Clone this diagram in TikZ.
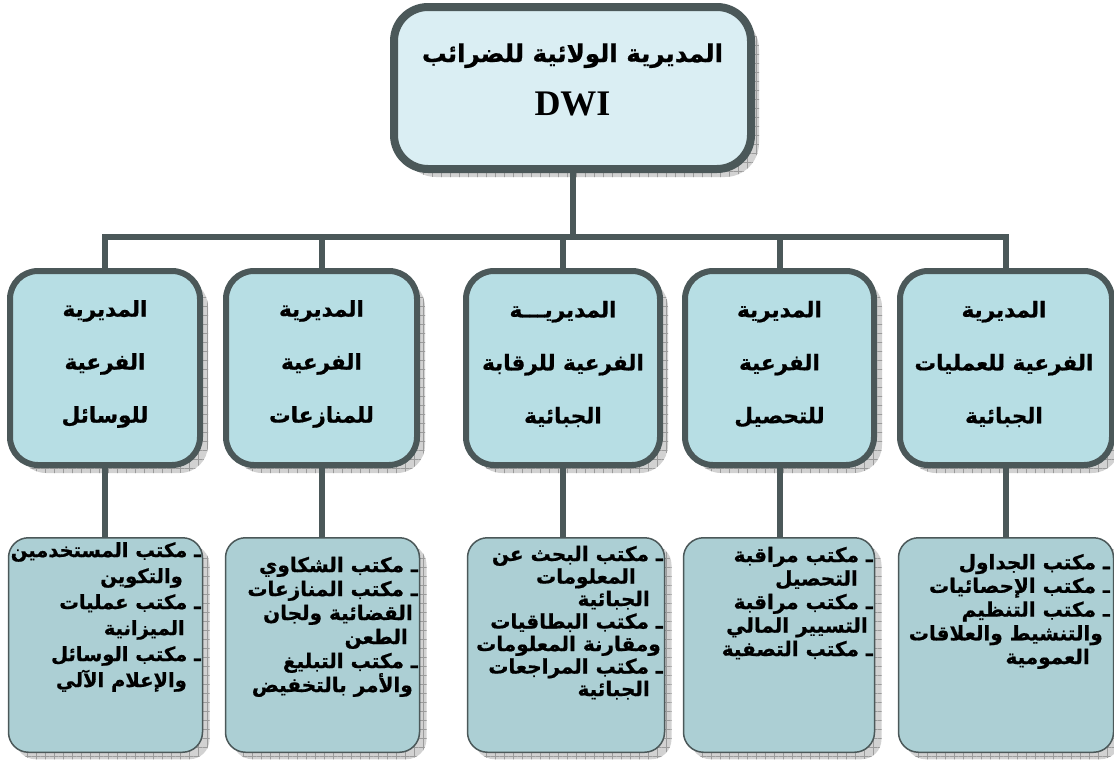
\documentclass[tikz,border=0pt]{standalone}
\usepackage{fontspec}
\setmainfont{Liberation Serif}
\newfontfamily\arabicfont[Script=Arabic, BoldFeatures={FakeBold=0.8}]{DejaVu Sans}
\TeXXeTstate=1
\usetikzlibrary{patterns.meta}
\definecolor{bord}{RGB}{75,88,89}
\definecolor{topfill}{RGB}{218,238,243}
\definecolor{midfill}{RGB}{183,222,228}
\definecolor{botfill}{RGB}{172,207,212}
\definecolor{shfill}{RGB}{210,210,210}
\definecolor{shline}{RGB}{155,155,155}
\newcommand{\arline}[1]{\beginR #1\endR}
\tikzset{
  shadowed/.style={
    preaction={fill=shfill, transform canvas={shift={(#1,-#1)}}},
    preaction={pattern={Hatch[angle=0,distance=9pt,line width=0.5pt]}, pattern color=shline, transform canvas={shift={(#1,-#1)}}}},
  topbox/.style={shadowed=8pt, draw=bord, line width=8pt, fill=topfill, rounded corners=34pt, minimum width=357pt, minimum height=162pt, inner sep=0pt, outer sep=0pt},
  midbox/.style={shadowed=8pt, draw=bord, line width=6pt, fill=midfill, rounded corners=28pt, minimum height=194pt, inner sep=0pt, outer sep=0pt},
  botbox/.style={shadowed=7pt, draw=bord, line width=1.5pt, fill=botfill, rounded corners=20pt, minimum height=214.5pt, inner sep=0pt, outer sep=0pt},
  midtxt/.style={font=\arabicfont\bfseries\fontsize{21.5}{53}\selectfont, align=center, inner sep=0pt},
  bottxt/.style={font=\arabicfont\bfseries\fontsize{20}{24}\selectfont, align=right, inner sep=0pt, anchor=base east},
  conn/.style={draw=bord, line width=6pt}
}
\begin{document}
\begin{tikzpicture}[x=1pt,y=-1pt]
\useasboundingbox (0,0) rectangle (1114,774);
% top box
\node[topbox] (top) at (572.5,88) {};
\node[font=\arabicfont\bfseries\fontsize{24.5}{30}\selectfont, anchor=base, inner sep=0pt] (toptxt) at (572.5,62) {\arline{المديرية  الولائية  للضرائب}};
\node[font=\bfseries\fontsize{36}{40}\selectfont, anchor=base, inner sep=0pt] (dwi) at (572.5,115) {DWI};
% middle boxes
\node[midbox, minimum width=190pt] (m1) at (105,368) {};
\node[midbox, minimum width=191pt] (m2) at (321.5,368) {};
\node[midbox, minimum width=194pt] (m3) at (563,368) {};
\node[midbox, minimum width=189pt] (m4) at (779.5,368) {};
\node[midbox, minimum width=212pt] (m5) at (1006,368) {};
\node[midtxt] (m1t) at (105,364) {\arline{المديرية}\\\arline{الفرعية}\\\arline{للوسائل}};
\node[midtxt] (m2t) at (321.5,364) {\arline{المديرية}\\\arline{الفرعية}\\\arline{للمنازعات}};
\node[midtxt] (m3t) at (563,364) {\arline{المديريـــة}\\\arline{الفرعية للرقابة}\\\arline{الجبائية}};
\node[midtxt] (m4t) at (779.5,364) {\arline{المديرية}\\\arline{الفرعية}\\\arline{للتحصيل}};
\node[midtxt] (m5t) at (1004,364) {\arline{المديرية}\\\arline{الفرعية للعمليات}\\\arline{الجبائية}};
% bottom boxes
\node[botbox, minimum width=194pt] (b1) at (105.5,645) {};
\node[botbox, minimum width=194pt] (b2) at (322.5,645) {};
\node[botbox, minimum width=197pt] (b3) at (566,645) {};
\node[botbox, minimum width=191pt] (b4) at (779,645) {};
\node[botbox, minimum width=215pt] (b5) at (1006,645) {};
\node[bottxt, font=\arabicfont\bfseries\fontsize{19.5}{26}\selectfont] (b1t) at (201,687) {\arline{ـ مكتب المستخدمين}\\\arline{والتكوين}\kern18pt\\\arline{ـ مكتب عمليات}\\\arline{الميزانية}\kern16pt\\\arline{ـ مكتب الوسائل}\\\arline{والإعلام الآلي}\kern14pt};
\node[bottxt] (b2t) at (418,692) {\arline{ـ مكتب الشكاوي}\\\arline{ـ مكتب المنازعات}\\\arline{القضائية ولجان}\kern5pt\\\arline{الطعن}\kern10pt\\\arline{ـ مكتب التبليغ}\\\arline{والأمر  بالتخفيض}\kern5pt};
\node[bottxt, font=\arabicfont\bfseries\fontsize{20}{22.5}\selectfont] (b3t) at (663,696) {\arline{ـ مكتب البحث عن}\\\arline{المعلومات}\kern27pt\\\arline{الجبائية}\kern13pt\\\arline{ـ مكتب البطاقيات}\\\arline{ومقارنة المعلومات}\kern2pt\\\arline{ـ مكتب المراجعات}\\\arline{الجبائية}\kern13pt};
\node[bottxt, font=\arabicfont\bfseries\fontsize{20}{23.5}\selectfont] (b4t) at (873,656) {\arline{ـ مكتب مراقبة}\\\arline{التحصيل}\kern15pt\\\arline{ـ مكتب مراقبة}\\\arline{التسيير المالي}\kern5pt\\\arline{ـ مكتب التصفية}};
\node[bottxt, font=\arabicfont\bfseries\fontsize{20}{23.7}\selectfont] (b5t) at (1110,664) {\arline{ـ مكتب الجداول}\\\arline{ـ مكتب الإحصائيات}\\\arline{ـ مكتب التنظيم}\\\arline{والتنشيط  والعلاقات}\kern7pt\\\arline{العمومية}\kern20pt};
% connectors
\coordinate (busy) at (0,237);
\draw[conn] (top.south) -- (top.south |- busy);
\draw[conn, line cap=rect] (m1.north) |- (m5.north |- busy) -- (m5.north);
\draw[conn] (m2.north) -- (m2.north |- busy);
\draw[conn] (m3.north) -- (m3.north |- busy);
\draw[conn] (m4.north) -- (m4.north |- busy);
\draw[conn] (m1.south) -- (m1.south |- b1.north);
\draw[conn] (m2.south) -- (m2.south |- b2.north);
\draw[conn] (m3.south) -- (m3.south |- b3.north);
\draw[conn] (m4.south) -- (m4.south |- b4.north);
\draw[conn] (m5.south) -- (m5.south |- b5.north);
\end{tikzpicture}
\end{document}
